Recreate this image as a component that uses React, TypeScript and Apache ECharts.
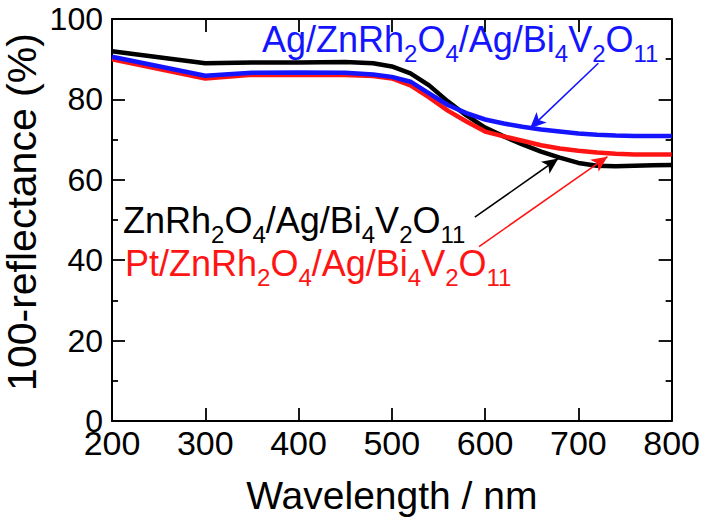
import React, { useEffect, useRef } from "react";
import * as echarts from "echarts";

const wavelengths = [200, 300, 350, 400, 450, 480, 500, 520, 540, 560, 580, 600, 620, 640, 660, 680, 700, 720, 740, 760, 780, 800];
const znRhValues = [92.0, 89.0, 89.2, 89.2, 89.3, 89.0, 88.2, 86.5, 83.5, 79.5, 76.0, 73.0, 70.8, 68.8, 67.0, 65.5, 64.2, 63.5, 63.4, 63.5, 63.6, 63.7];
const agZnRhValues = [90.6, 85.9, 86.6, 86.7, 86.6, 86.2, 85.6, 84.4, 81.5, 78.6, 76.6, 75.0, 74.0, 73.2, 72.5, 72.0, 71.5, 71.2, 71.0, 70.9, 70.9, 70.9];
const ptZnRhValues = [90.0, 85.2, 86.1, 86.1, 86.1, 85.8, 85.2, 83.5, 80.5, 77.2, 74.5, 72.0, 70.8, 69.7, 68.6, 67.8, 67.2, 66.8, 66.5, 66.3, 66.3, 66.3];

const seriesNames = ["ZnRh2O4/Ag/Bi4V2O11", "Ag/ZnRh2O4/Ag/Bi4V2O11", "Pt/ZnRh2O4/Ag/Bi4V2O11"];
// arrow start/end in data coordinates [wavelength, value]
const znRhArrow = [[589, 50.7], [678.5, 65.3]];
const agArrow = [[721.4, 89.0], [648.2, 72.8]];
const ptArrow = [[593.5, 43.4], [731.2, 65.75]];

const FONT = "'Liberation Sans', Arial, Helvetica, sans-serif";
const BLACK = "#000000";
const BLUE = "#1414ff";
const RED = "#ff1414";

function pairs(xs: number[], ys: number[]) {
  return xs.map((x, i) => [x, ys[i]]);
}

function richLabel(prefix: string, color: string) {
  const text =
    (prefix ? "{m|" + prefix + "}" : "") +
    "{m|ZnRh}{s|2}{m|O}{s|4}{m|/Ag/Bi}{s|4}{m|V}{s|2}{m|O}{s|11}";
  return {
    text,
    align: "left",
    verticalAlign: "top",
    fill: color,
    fontFamily: FONT,
    fontSize: 36,
    rich: {
      m: { fontSize: 36, lineHeight: 36, verticalAlign: "top", fill: color, fontFamily: FONT },
      s: { fontSize: 24, lineHeight: 18, padding: [20, 0, 0, 0], verticalAlign: "top", fill: color, fontFamily: FONT },
    },
  };
}

function arrowLine(a: number[][], color: string) {
  return {
    silent: true,
    symbol: ["none", "arrow"],
    symbolSize: [11, 16],
    label: { show: false },
    lineStyle: { color, width: 1.6, type: "solid" },
    emphasis: { disabled: true },
    data: [[{ coord: a[0] }, { coord: a[1] }]],
  };
}

export default function App() {
  const ref = useRef<HTMLDivElement>(null);
  useEffect(() => {
    document.body.style.margin = "0";
    const chart = echarts.init(ref.current!, null, { renderer: "svg" });
    const axisLine = { show: true, onZero: false, lineStyle: { color: BLACK, width: 2 } };
    const xCommon = {
      type: "value",
      min: 200,
      max: 800,
      interval: 100,
      axisLine,
      axisTick: { show: true, inside: true, length: 13, lineStyle: { color: BLACK, width: 1.8 } },
      splitLine: { show: false },
    };
    const yCommon = {
      type: "value",
      min: 0,
      max: 100,
      interval: 20,
      axisLine,
      axisTick: { show: true, inside: true, length: 13, lineStyle: { color: BLACK, width: 1.8 } },
      minorTick: { show: true, splitNumber: 2, length: 6, lineStyle: { color: BLACK, width: 1.8 } },
      splitLine: { show: false },
      minorSplitLine: { show: false },
    };
    chart.setOption({
      animation: false,
      backgroundColor: "#ffffff",
      grid: { left: 112, right: 31, top: 19, bottom: 100, containLabel: false },
      xAxis: [
        {
          ...xCommon,
          position: "bottom",
          name: "Wavelength / nm",
          nameLocation: "middle",
          nameGap: 55,
          nameTextStyle: { fontSize: 39, color: BLACK, fontFamily: FONT },
          axisLabel: { show: true, fontSize: 34, color: BLACK, margin: 5, fontFamily: FONT },
        },
        {
          ...xCommon,
          position: "top",
          axisLabel: { show: false },
        },
      ],
      yAxis: [
        {
          ...yCommon,
          position: "left",
          axisLabel: { show: true, fontSize: 32, color: BLACK, margin: 9, fontFamily: FONT },
        },
        {
          ...yCommon,
          position: "right",
          axisLabel: { show: false },
        },
      ],
      series: [
        {
          name: seriesNames[0],
          type: "line",
          data: pairs(wavelengths, znRhValues),
          showSymbol: false,
          lineStyle: { color: BLACK, width: 4.5 },
          itemStyle: { color: BLACK },
          markLine: arrowLine(znRhArrow, BLACK),
          z: 2,
        },
        {
          name: seriesNames[2],
          type: "line",
          data: pairs(wavelengths, ptZnRhValues),
          showSymbol: false,
          lineStyle: { color: RED, width: 4.5 },
          itemStyle: { color: RED },
          markLine: arrowLine(ptArrow, RED),
          z: 3,
        },
        {
          name: seriesNames[1],
          type: "line",
          data: pairs(wavelengths, agZnRhValues),
          showSymbol: false,
          lineStyle: { color: BLUE, width: 4.5 },
          itemStyle: { color: BLUE },
          markLine: arrowLine(agArrow, BLUE),
          z: 4,
        },
      ],
      graphic: [
        {
          type: "text",
          x: 22,
          y: 212,
          rotation: Math.PI / 2,
          style: {
            text: "100-reflectance (%)",
            fontSize: 41,
            fontFamily: FONT,
            fill: BLACK,
            align: "center",
            verticalAlign: "middle",
          },
        },
        { type: "text", x: 262, y: 21, style: richLabel("Ag/", BLUE) },
        { type: "text", x: 123, y: 202, style: richLabel("", BLACK) },
        { type: "text", x: 125, y: 245, style: richLabel("Pt/", RED) },
      ],
    });
    return () => chart.dispose();
  }, []);
  return <div ref={ref} style={{ width: 703, height: 521 }} />;
}
